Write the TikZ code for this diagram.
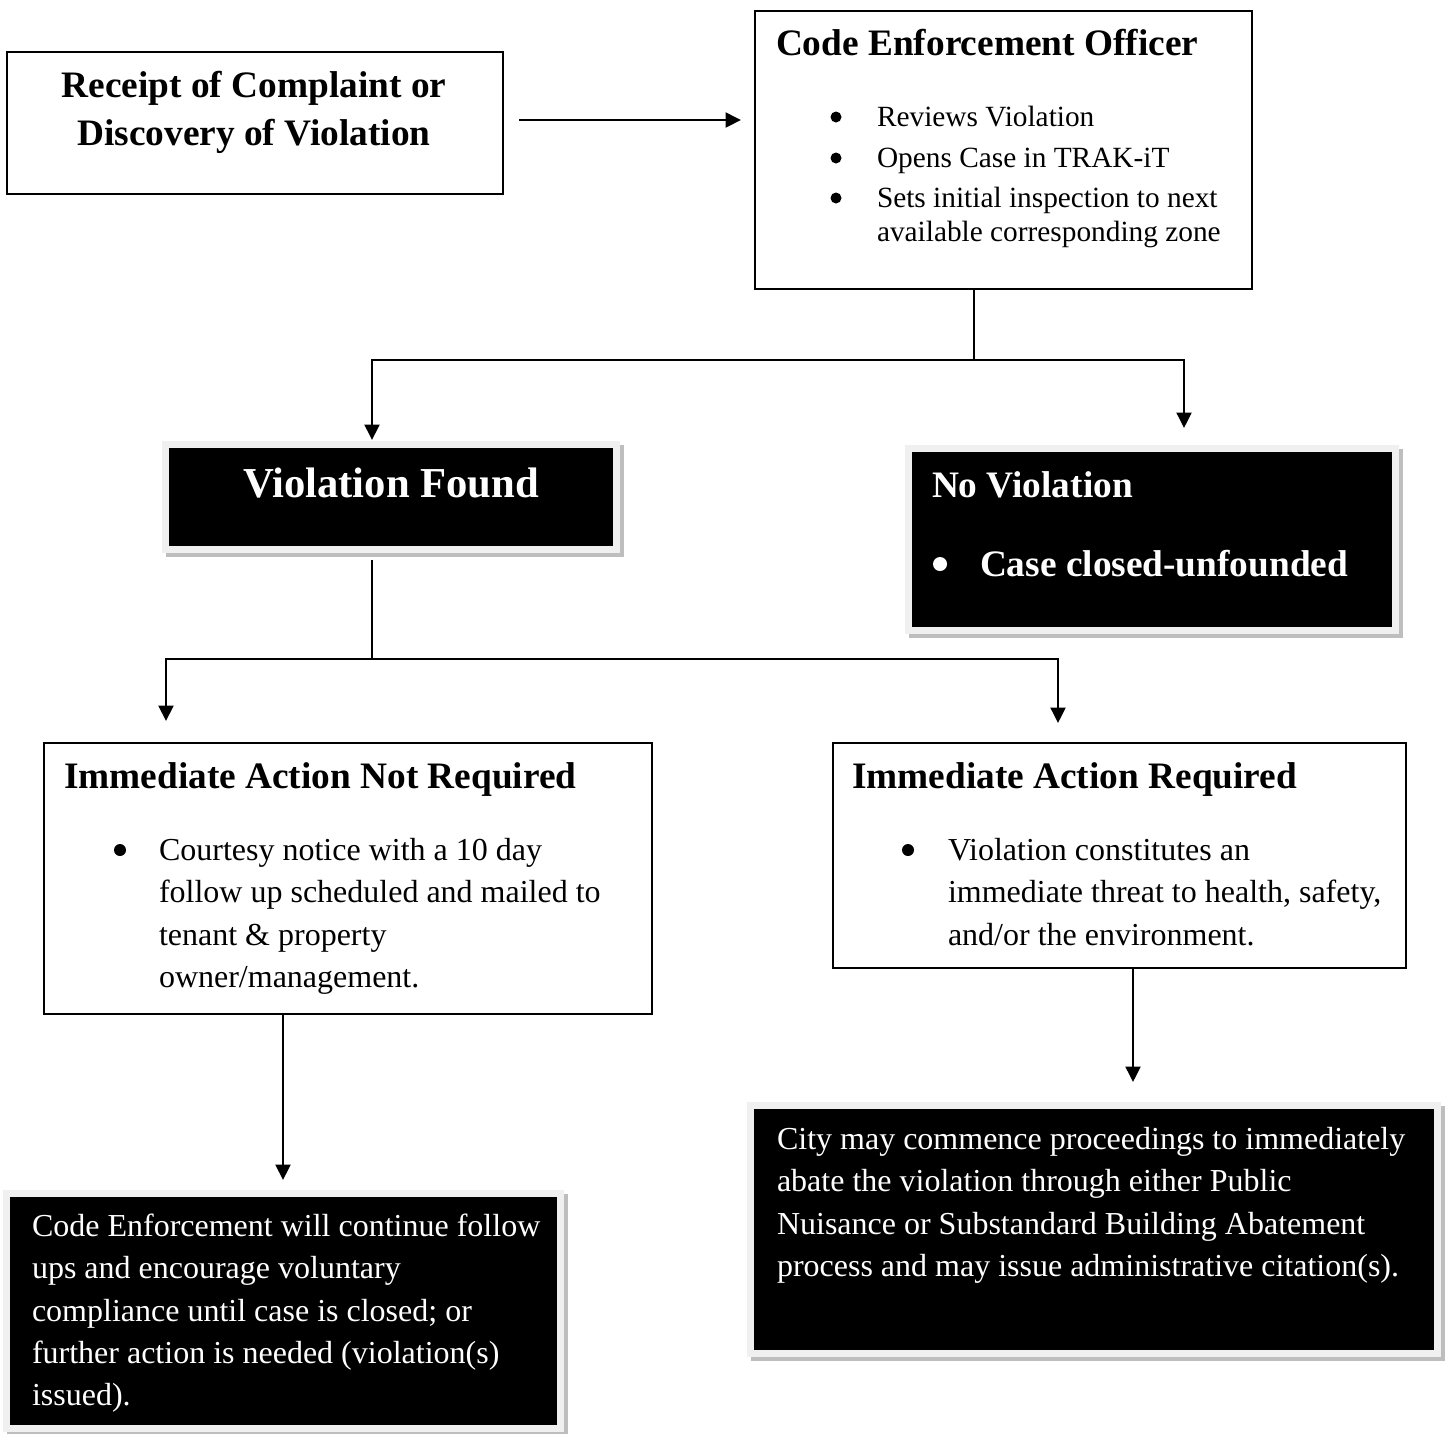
\documentclass[tikz,border=0pt]{standalone}
\usepackage{fontspec}
\setmainfont{Liberation Serif}
\usetikzlibrary{arrows.meta}
\definecolor{framegray}{RGB}{240,240,240}
\definecolor{shadowgray}{RGB}{190,190,190}
\newcommand\fElev{\fontsize{29.33}{33.7}\selectfont}
\newcommand\fTwel{\fontsize{32}{42.3}\selectfont}
\newcommand\fFourB{\fontsize{37.33}{49}\selectfont\bfseries}
\newcommand\fSixB{\fontsize{42.67}{49}\selectfont\bfseries}
\begin{document}
\begin{tikzpicture}[x=1pt,y=-1pt,
  plainbox/.style={draw=black, line width=2pt, fill=white, inner sep=0pt, anchor=north west},
  darkbox/.style={fill=black, inner sep=0pt, anchor=north west,
    preaction={draw=shadowgray, fill=shadowgray, line width=14pt, transform canvas={shift={(4pt,-4pt)}}},
    preaction={draw=framegray, line width=14pt}},
  txt/.style={inner sep=0pt, outer sep=0pt, anchor=base west},
  ctxt/.style={inner sep=0pt, outer sep=0pt, anchor=base},
  wtxt/.style={txt, text=white},
  dot/.style={circle, fill=#1, inner sep=0pt, outer sep=0pt},
  conn/.style={draw=black, line width=2pt},
  arr/.style={conn, -{Triangle[length=15.5pt,width=15pt]}}]
\useasboundingbox (0,0) rectangle (1445,1433);

% boxes
\node[plainbox, minimum width=496pt, minimum height=142pt] (ra) at (6,51) {};
\node[plainbox, minimum width=497pt, minimum height=278pt] (ceo) at (754,10) {};
\node[darkbox, minimum width=444pt, minimum height=98pt] (vf) at (169,448) {};
\node[darkbox, minimum width=480pt, minimum height=175pt] (nv) at (912,452) {};
\node[plainbox, minimum width=608pt, minimum height=271pt] (inr) at (43,742) {};
\node[plainbox, minimum width=573pt, minimum height=225pt] (iar) at (832,742) {};
\node[darkbox, minimum width=547pt, minimum height=228pt] (cont) at (10,1197) {};
\node[darkbox, minimum width=680pt, minimum height=241pt] (city) at (754,1109) {};

% texts: receipt
\node[ctxt, font=\fFourB] (ra1) at (254,97) {Receipt of Complaint or};
\node[ctxt, font=\fFourB] (ra2) at (254,145) {Discovery of Violation};

% code enforcement officer
\node[txt, font=\fFourB] (ceot) at (776,55) {Code Enforcement Officer};
\node[dot=black, minimum size=11pt] (ceob1) at (836,117) {};
\node[dot=black, minimum size=11pt] (ceob2) at (836,158) {};
\node[dot=black, minimum size=11pt] (ceob3) at (836,198) {};
\node[txt, font=\fElev] (ceo1) at (877,126) {Reviews Violation};
\node[txt, font=\fElev] (ceo2) at (877,167) {Opens Case in TRAK-iT};
\node[txt, font=\fElev] (ceo3) at (877,207) {Sets initial inspection to next};
\node[txt, font=\fElev] (ceo4) at (877,241) {available corresponding zone};

% violation found
\node[ctxt, font=\fSixB, text=white] (vft) at (391,497) {Violation Found};

% no violation
\node[wtxt, font=\fFourB] (nvt) at (932,497) {No Violation};
\node[dot=white, minimum size=14pt] (nvb) at (940,564) {};
\node[wtxt, font=\fFourB] (nv1) at (980,576) {Case closed-unfounded};

% immediate action not required
\node[txt, font=\fFourB] (inrt) at (64,788) {Immediate Action Not Required};
\node[dot=black, minimum size=12pt] (inrb) at (120,850) {};
\node[txt, font=\fTwel] (inr1) at (159,860) {Courtesy notice with a 10 day};
\node[txt, font=\fTwel] (inr2) at (159,902) {follow up scheduled and mailed to};
\node[txt, font=\fTwel] (inr3) at (159,945) {tenant \& property};
\node[txt, font=\fTwel] (inr4) at (159,987) {owner/management.};

% immediate action required
\node[txt, font=\fFourB] (iart) at (852,788) {Immediate Action Required};
\node[dot=black, minimum size=12pt] (iarb) at (908,850) {};
\node[txt, font=\fTwel] (iar1) at (948,860) {Violation constitutes an};
\node[txt, font=\fTwel] (iar2) at (948,902) {immediate threat to health, safety,};
\node[txt, font=\fTwel] (iar3) at (948,945) {and/or the environment.};

% continue
\node[wtxt, font=\fTwel] (cont1) at (32,1236) {Code Enforcement will continue follow};
\node[wtxt, font=\fTwel] (cont2) at (32,1278) {ups and encourage voluntary};
\node[wtxt, font=\fTwel] (cont3) at (32,1321) {compliance until case is closed; or};
\node[wtxt, font=\fTwel] (cont4) at (32,1363) {further action is needed (violation(s)};
\node[wtxt, font=\fTwel] (cont5) at (32,1405) {issued).};

% city
\node[wtxt, font=\fTwel] (city1) at (777,1149) {City may commence proceedings to immediately};
\node[wtxt, font=\fTwel] (city2) at (777,1191) {abate the violation through either Public};
\node[wtxt, font=\fTwel] (city3) at (777,1234) {Nuisance or Substandard Building Abatement};
\node[wtxt, font=\fTwel] (city4) at (777,1276) {process and may issue administrative citation(s).};

% connectors
\coordinate (j1) at (974,360);
\coordinate (jl) at (372,360);
\coordinate (jr) at (1184,360);
\coordinate (j2) at (372,659);
\coordinate (kl) at (166,659);
\coordinate (kr) at (1058,659);
\coordinate (m1) at (283,1013);
\coordinate (m2) at (1133,967);

\draw[arr, shorten <=15pt, shorten >=13pt] (ra.east |- 0,120) -- (ceo.west |- 0,120);
\draw[conn] (j1 |- ceo.south) -- (j1);
\draw[arr, shorten >=8pt] (j1) -- (jl) -- (jl |- vf.north);
\draw[arr, shorten >=24pt] (jl) -- (jr) -- (jr |- nv.north);
\draw[conn, shorten <=14pt] (j2 |- vf.south) -- (j2);
\draw[arr, shorten >=21pt] (j2) -- (kl) -- (kl |- inr.north);
\draw[arr, shorten >=19pt] (j2) -- (kr) -- (kr |- iar.north);
\draw[arr, shorten >=17pt] (m1 |- inr.south) -- (m1 |- cont.north);
\draw[arr, shorten >=27pt] (m2 |- iar.south) -- (m2 |- city.north);
\end{tikzpicture}
\end{document}
